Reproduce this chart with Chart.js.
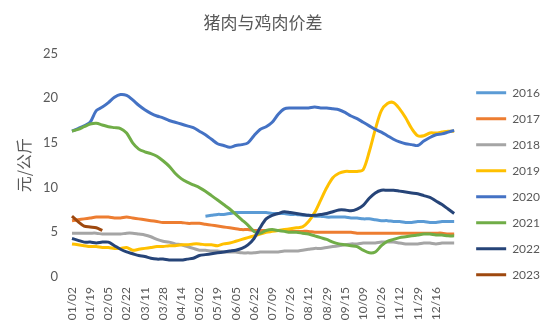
<!DOCTYPE html>
<html>
<head>
<meta charset="utf-8">
<script src="https://cdn.jsdelivr.net/npm/chart.js@4.4.1/dist/chart.umd.min.js"></script>
<style>
  html, body { margin: 0; padding: 0; background: #fff; }
  #wrap { width: 550px; height: 330px; }
</style>
</head>
<body>
<div id="wrap"><canvas id="chart" width="550" height="330"></canvas></div>
<script>
// x categories (trading dates); every third one is labelled on the axis
const dates = [
  '01/02', '01/07', '01/13', '01/19', '01/25', '01/31', '02/05', '02/11',
  '02/16', '02/22', '02/28', '03/05', '03/11', '03/17', '03/22', '03/28',
  '04/03', '04/08', '04/14', '04/20', '04/26', '05/02', '05/08', '05/13',
  '05/19', '05/25', '05/30', '06/05', '06/11', '06/16', '06/22', '06/28',
  '07/03', '07/09', '07/15', '07/20', '07/26', '08/01', '08/06', '08/12',
  '08/18', '08/23', '08/29', '09/04', '09/09', '09/15', '09/21', '09/29',
  '10/09', '10/15', '10/20', '10/26', '11/01', '11/06', '11/12', '11/18',
  '11/23', '11/29', '12/05', '12/10', '12/16', '12/22', '12/27', '12/31'
];
const labelEvery = 3;
const lastLabelIndex = 60;

const years = ['2016', '2017', '2018', '2019', '2020', '2021', '2022', '2023'];
const colors = ['#5B9BD5', '#ED7D31', '#A5A5A5', '#FFC000', '#4472C4', '#70AD47', '#264478', '#9E480E'];

// pork minus chicken price, yuan/kg
const y2016 = [
  null, null, null, null, null, null, null, null, null, null, null, null, null, null, null, null,
  null, null, null, null, null, null, 6.8, 6.9, 7.0, 7.0, 7.1, 7.2, 7.2, 7.2, 7.2, 7.2,
  7.2, 7.1, 7.1, 7.1, 7.0, 7.0, 6.9, 6.9, 6.8, 6.8, 6.7, 6.7, 6.7, 6.7, 6.6, 6.6,
  6.5, 6.5, 6.4, 6.3, 6.3, 6.2, 6.2, 6.1, 6.1, 6.2, 6.2, 6.1, 6.1, 6.2, 6.2, 6.2
];
const y2017 = [
  6.3, 6.4, 6.5, 6.6, 6.7, 6.7, 6.7, 6.6, 6.6, 6.7, 6.6, 6.5, 6.4, 6.3, 6.2, 6.1,
  6.1, 6.1, 6.1, 6.0, 6.0, 6.0, 5.9, 5.8, 5.7, 5.6, 5.5, 5.4, 5.3, 5.3, 5.2, 5.2,
  5.2, 5.2, 5.2, 5.2, 5.1, 5.1, 5.1, 5.1, 5.0, 5.0, 5.0, 5.0, 5.0, 5.0, 5.0, 4.9,
  4.9, 4.9, 4.9, 4.9, 4.9, 4.9, 4.9, 4.9, 4.9, 4.9, 4.9, 4.9, 4.9, 4.9, 4.8, 4.8
];
const y2018 = [
  4.9, 4.9, 4.9, 4.9, 4.9, 4.8, 4.8, 4.8, 4.8, 4.9, 4.9, 4.8, 4.7, 4.5, 4.2, 4.0,
  3.9, 3.7, 3.6, 3.4, 3.2, 3.0, 3.0, 2.9, 2.9, 2.8, 2.8, 2.8, 2.7, 2.7, 2.7, 2.8,
  2.8, 2.8, 2.8, 2.9, 2.9, 2.9, 3.0, 3.1, 3.2, 3.2, 3.3, 3.4, 3.5, 3.6, 3.7, 3.7,
  3.8, 3.8, 3.8, 3.9, 3.9, 3.9, 3.8, 3.7, 3.7, 3.7, 3.8, 3.8, 3.7, 3.8, 3.8, 3.8
];
const y2019 = [
  3.7, 3.6, 3.5, 3.4, 3.4, 3.3, 3.3, 3.2, 3.2, 3.3, 3.0, 3.1, 3.2, 3.3, 3.4, 3.4,
  3.5, 3.5, 3.6, 3.6, 3.7, 3.7, 3.6, 3.6, 3.5, 3.7, 3.8, 4.0, 4.2, 4.4, 4.6, 4.8,
  5.0, 5.1, 5.2, 5.3, 5.4, 5.5, 5.6, 6.2, 7.2, 8.6, 10.0, 11.1, 11.6, 11.8, 11.8, 11.8,
  12.0, 14.0, 16.5, 18.6, 19.4, 19.5, 18.8, 17.8, 16.6, 15.8, 15.8, 16.1, 16.1, 16.2, 16.3, 16.3
];
const y2020 = [
  16.3, 16.6, 16.9, 17.3, 18.6, 19.0, 19.5, 20.1, 20.4, 20.3, 19.8, 19.2, 18.7, 18.3, 18.0, 17.8,
  17.5, 17.3, 17.1, 16.9, 16.7, 16.3, 15.9, 15.4, 14.9, 14.7, 14.5, 14.7, 14.8, 15.0, 15.8, 16.5,
  16.8, 17.3, 18.2, 18.8, 18.9, 18.9, 18.9, 18.9, 19.0, 18.9, 18.9, 18.8, 18.7, 18.4, 18.0, 17.7,
  17.3, 16.9, 16.5, 16.2, 15.8, 15.4, 15.1, 14.9, 14.8, 14.7, 15.2, 15.6, 15.9, 16.0, 16.2, 16.4
];
const y2021 = [
  16.3, 16.5, 16.8, 17.1, 17.2, 17.0, 16.8, 16.7, 16.6, 16.1, 15.0, 14.3, 14.0, 13.8, 13.5, 13.0,
  12.4, 11.6, 11.0, 10.6, 10.3, 10.0, 9.6, 9.1, 8.6, 8.1, 7.6, 7.0, 6.4, 5.8, 5.1, 4.9,
  5.2, 5.3, 5.2, 5.1, 5.0, 5.0, 4.9, 4.8, 4.6, 4.4, 4.2, 3.9, 3.7, 3.6, 3.5, 3.4,
  3.0, 2.7, 2.8, 3.5, 4.0, 4.2, 4.4, 4.5, 4.6, 4.7, 4.8, 4.8, 4.7, 4.7, 4.6, 4.6
];
const y2022 = [
  4.3, 4.1, 3.9, 3.9, 3.8, 3.9, 3.9, 3.5, 3.1, 2.8, 2.6, 2.4, 2.3, 2.1, 2.0, 2.0,
  1.9, 1.9, 1.9, 2.0, 2.1, 2.4, 2.5, 2.6, 2.7, 2.8, 2.9, 3.0, 3.2, 3.6, 4.3, 5.5,
  6.5, 6.9, 7.1, 7.3, 7.2, 7.1, 7.0, 6.9, 6.9, 7.0, 7.1, 7.3, 7.5, 7.5, 7.4, 7.6,
  8.0, 8.8, 9.4, 9.7, 9.7, 9.7, 9.6, 9.5, 9.4, 9.3, 9.1, 8.9, 8.5, 8.1, 7.6, 7.1
];
const y2023 = [6.8, 6.2, 5.7, 5.6, 5.5, 5.2];

const seriesValues = [y2016, y2017, y2018, y2019, y2020, y2021, y2022, y2023];
const yTicks = { min: 0, max: 25, step: 5 };

const grey = '#595959';
const cjk = '"Noto Sans CJK SC", sans-serif';
const latin = 'Lato, "Noto Sans", sans-serif';

const datasets = years.map((year, i) => ({
  label: year,
  data: seriesValues[i],
  borderColor: colors[i],
  backgroundColor: colors[i],
  borderWidth: 3,
  pointRadius: 0,
  tension: 0.3,
  spanGaps: false,
  // later years are painted on top
  order: years.length - 1 - i
}));

new Chart(document.getElementById('chart'), {
  type: 'line',
  data: { labels: dates, datasets: datasets },
  options: {
    responsive: false,
    animation: false,
    layout: { padding: { left: 14, right: 0, top: 0, bottom: 0 } },
    plugins: {
      title: {
        display: true,
        text: '猪肉与鸡肉价差',
        color: grey,
        fullSize: false,
        font: { family: cjk, size: 17, weight: 'normal' },
        padding: { top: 12, bottom: 21 }
      },
      legend: {
        position: 'right',
        reverse: true,
        // empty title only pushes the entries down a little
        title: { display: true, text: '', font: { size: 12 }, padding: { top: 23, bottom: 0 } },
        labels: {
          usePointStyle: true,
          pointStyle: 'line',
          pointStyleWidth: 30,
          color: grey,
          padding: 14,
          font: { family: latin, size: 12 }
        }
      },
      tooltip: { enabled: false }
    },
    scales: {
      x: {
        offset: false,
        grid: { display: false, drawTicks: false },
        border: { display: false },
        ticks: {
          autoSkip: false,
          maxRotation: 90,
          minRotation: 90,
          padding: 10,
          color: grey,
          font: { family: latin, size: 12 },
          callback: function (value, index) {
            return (index % labelEvery === 0 && index <= lastLabelIndex) ? dates[index] : '';
          }
        },
        afterFit: function (scale) { scale.height = 53; }
      },
      y: {
        min: yTicks.min,
        max: yTicks.max,
        grid: { display: false, drawTicks: false },
        border: { display: false },
        ticks: {
          stepSize: yTicks.step,
          padding: 14,
          color: grey,
          font: { family: latin, size: 13 }
        },
        title: {
          display: true,
          text: '元/公斤',
          color: grey,
          padding: 0,
          font: { family: cjk, size: 16, weight: 'normal' }
        },
        afterFit: function (scale) { scale.width = 58; }
      },
      // empty strip between the plot and the legend
      gap: {
        position: 'right',
        grid: { display: false, drawTicks: false },
        border: { display: false },
        ticks: { display: false },
        afterFit: function (scale) { scale.width = 8; }
      }
    }
  }
});
</script>
</body>
</html>
